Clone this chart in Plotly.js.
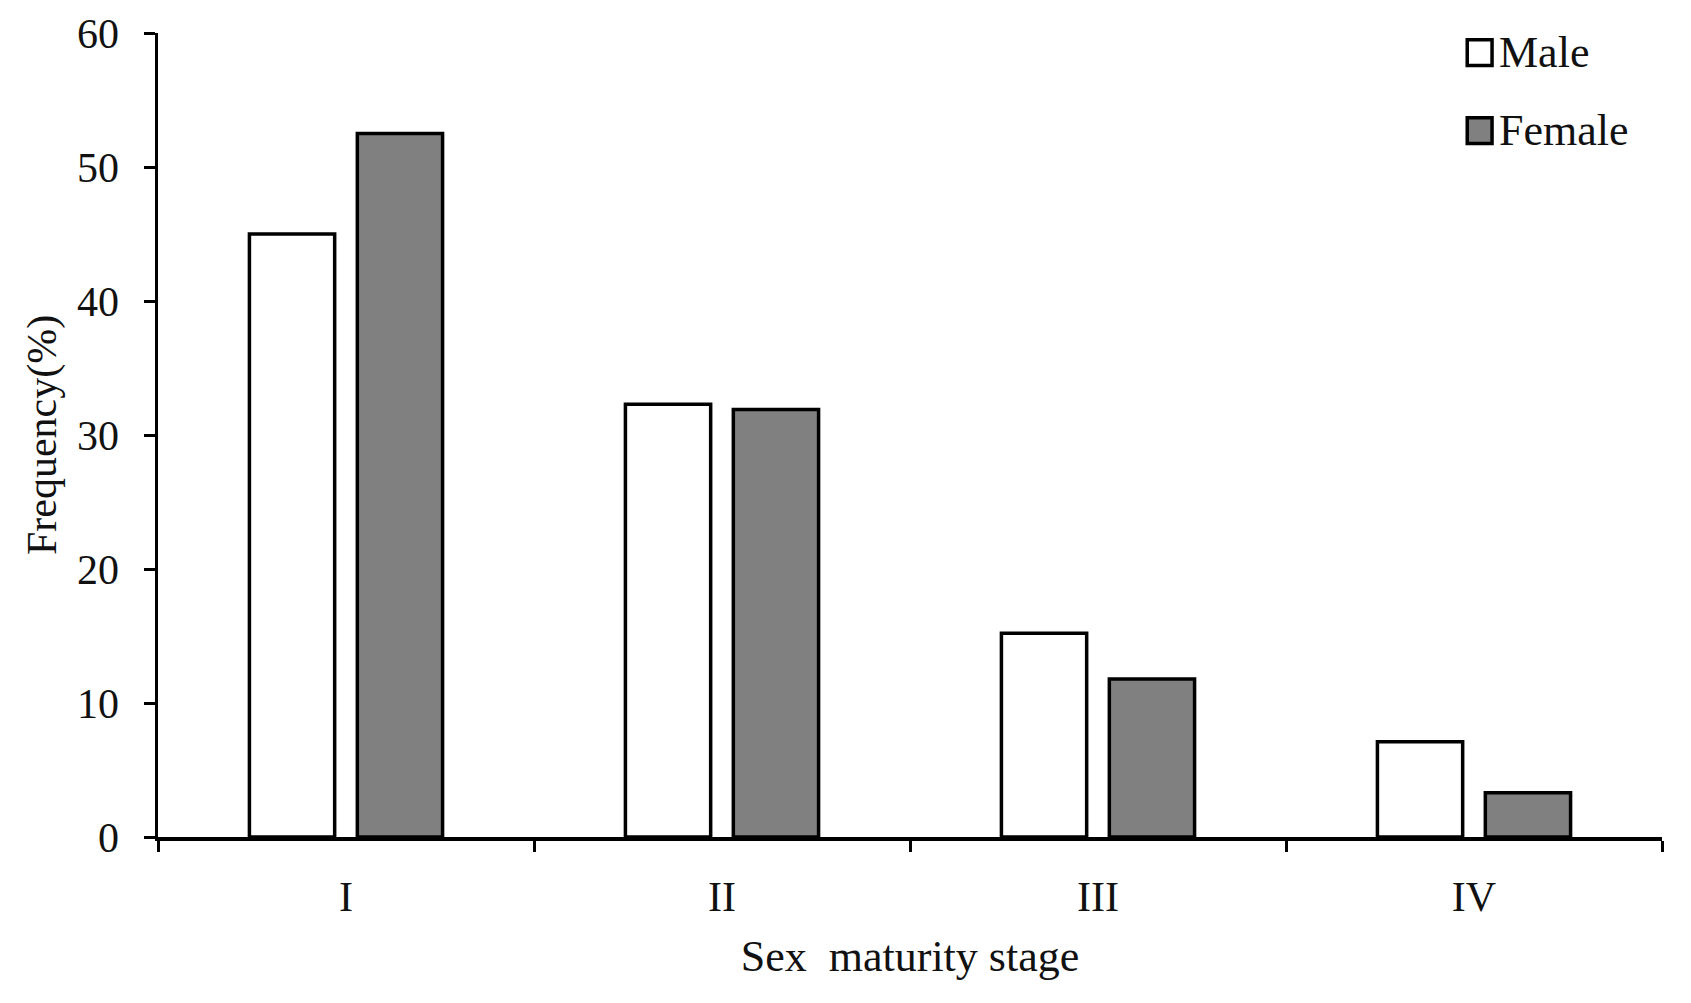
<!DOCTYPE html>
<html>
<head>
<meta charset="utf-8">
<script src="https://cdn.plot.ly/plotly-3.0.1.min.js"></script>
<style>html,body{margin:0;padding:0;background:#fff;}#chart{width:1691px;height:1003px;}</style>
</head>
<body>
<div id="chart"></div>
<script>
const stages = ["I", "II", "III", "IV"];
const seriesNames = ["Male", "Female"];
const maleValues = [45.0, 32.3, 15.2, 7.1];
const femaleValues = [52.5, 31.9, 11.8, 3.3];
const yTickValues = [0, 10, 20, 30, 40, 50, 60];
const xTitle = "Sex\u00a0 maturity stage";
const yTitle = "Frequency(%)";

const FONT = "'Liberation Serif', 'Times New Roman', serif";
const fills = ["#ffffff", "#808080"];

const traces = [
  {type: "bar", name: seriesNames[0], x: stages, y: maleValues,
   marker: {color: fills[0], line: {color: "#000", width: 3.5}}, showlegend: false},
  {type: "bar", name: seriesNames[1], x: stages, y: femaleValues,
   marker: {color: fills[1], line: {color: "#000", width: 3.5}}, showlegend: false}
];

const legendRows = [0.9755, 0.8785];
const shapes = [];
const annotations = [];
seriesNames.forEach((n, i) => {
  const yc = legendRows[i];
  const hh = 0.016;
  shapes.push({type: "rect", xref: "paper", yref: "paper",
    x0: 0.8705, x1: 0.8870, y0: yc - hh, y1: yc + hh,
    fillcolor: fills[i], line: {color: "#000", width: 3.5}});
  annotations.push({xref: "paper", yref: "paper", x: 0.8905, y: yc,
    xanchor: "left", yanchor: "middle", text: n, showarrow: false,
    font: {family: FONT, size: 44, color: "#111"}});
});

const layout = {
  width: 1691, height: 1003,
  margin: {l: 158, r: 29, t: 33, b: 166},
  paper_bgcolor: "#fff", plot_bgcolor: "#fff",
  barmode: "group", bargap: 0.426, bargroupgap: 0.21,
  font: {family: FONT, color: "#111"},
  xaxis: {
    type: "category", tickson: "boundaries",
    showline: true, linecolor: "#000", linewidth: 3.5,
    ticks: "outside", ticklen: 11, tickwidth: 3, tickcolor: "#000",
    showgrid: false, zeroline: false,
    tickfont: {family: FONT, size: 42, color: "#111"},
    ticklabelstandoff: 20,
    title: {text: xTitle, font: {family: FONT, size: 44, color: "#111"}, standoff: 22}
  },
  yaxis: {
    range: [0, 60], tickvals: yTickValues,
    showline: true, linecolor: "#000", linewidth: 3.5,
    ticks: "outside", ticklen: 11, tickwidth: 3, tickcolor: "#000",
    showgrid: false, zeroline: false,
    tickfont: {family: FONT, size: 42, color: "#111"},
    ticklabelstandoff: 16,
    title: {text: yTitle, font: {family: FONT, size: 42, color: "#111"}, standoff: 8}
  },
  shapes: shapes,
  annotations: annotations,
  showlegend: false
};

Plotly.newPlot("chart", traces, layout, {displayModeBar: false, staticPlot: true});
</script>
</body>
</html>
